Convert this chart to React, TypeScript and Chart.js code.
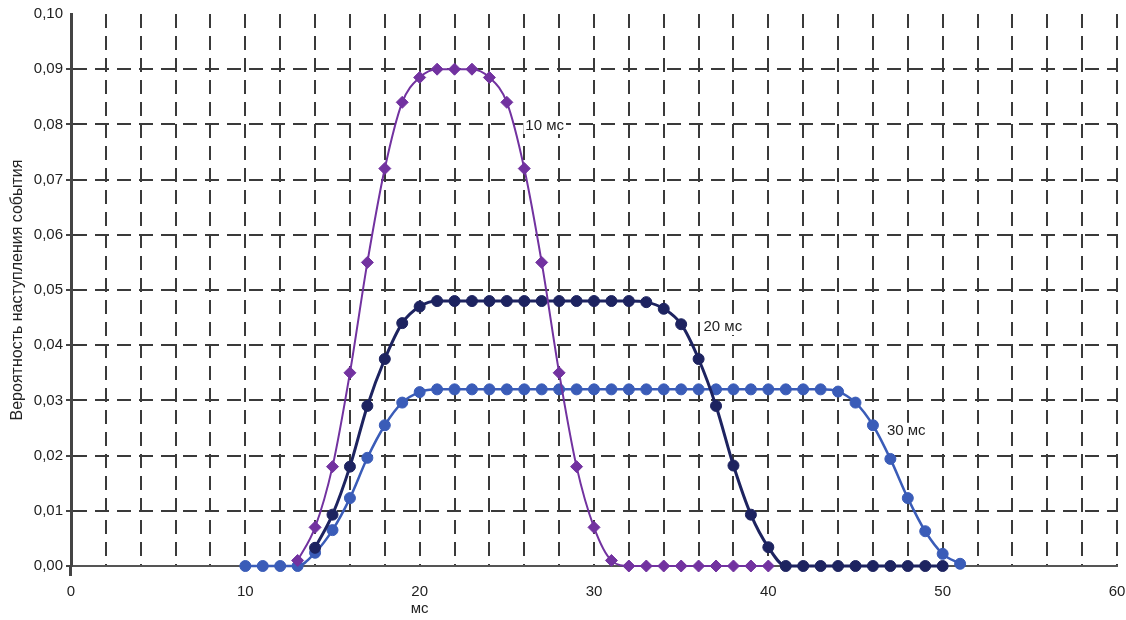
import { useEffect, useRef } from 'react';
import { Chart, registerables } from 'chart.js';

Chart.register(...registerables);

// ---- data ----
const X_10MS = [13, 14, 15, 16, 17, 18, 19, 20, 21, 22, 23, 24, 25, 26, 27, 28, 29, 30, 31, 32, 33, 34, 35, 36, 37, 38, 39, 40];
const Y_10MS = [0.001, 0.007, 0.018, 0.035, 0.055, 0.072, 0.084, 0.0885, 0.09, 0.09, 0.09, 0.0885, 0.084, 0.072, 0.055, 0.035, 0.018, 0.007, 0.001, 0, 0, 0, 0, 0, 0, 0, 0, 0];

const X_20MS = [14, 15, 16, 17, 18, 19, 20, 21, 22, 23, 24, 25, 26, 27, 28, 29, 30, 31, 32, 33, 34, 35, 36, 37, 38, 39, 40, 41, 42, 43, 44, 45, 46, 47, 48, 49, 50];
const Y_20MS = [0.0033, 0.0093, 0.018, 0.029, 0.0375, 0.044, 0.047, 0.048, 0.048, 0.048, 0.048, 0.048, 0.048, 0.048, 0.048, 0.048, 0.048, 0.048, 0.048, 0.0478, 0.0466, 0.0438, 0.0375, 0.029, 0.0182, 0.0093, 0.0034, 0, 0, 0, 0, 0, 0, 0, 0, 0, 0];

const X_30MS = [10, 11, 12, 13, 14, 15, 16, 17, 18, 19, 20, 21, 22, 23, 24, 25, 26, 27, 28, 29, 30, 31, 32, 33, 34, 35, 36, 37, 38, 39, 40, 41, 42, 43, 44, 45, 46, 47, 48, 49, 50, 51];
const Y_30MS = [0, 0, 0, 0, 0.0024, 0.0065, 0.0123, 0.0196, 0.0255, 0.0296, 0.0315, 0.032, 0.032, 0.032, 0.032, 0.032, 0.032, 0.032, 0.032, 0.032, 0.032, 0.032, 0.032, 0.032, 0.032, 0.032, 0.032, 0.032, 0.032, 0.032, 0.032, 0.032, 0.032, 0.032, 0.0316, 0.0296, 0.0255, 0.0194, 0.0123, 0.0063, 0.0022, 0.0004];

const SERIES_NAMES = ['10 мс', '20 мс', '30 мс'];
const SERIES_LABEL_X = [26.06, 36.28, 46.8];
const SERIES_LABEL_Y = [0.0797, 0.0433, 0.0245];

const X_TITLE = 'мс';
const X_TITLE_AT = 20;
const Y_TITLE = 'Вероятность наступления события';

const X_MIN = 0;
const X_MAX = 60;
const X_GRID_STEP = 2;
const X_LABEL_STEP = 10;
const Y_MIN = 0;
const Y_MAX = 0.1;
const Y_STEP = 0.01;

// ---- styles ----
const FONT = '"Liberation Sans", Arial, sans-serif';
const PURPLE = '#7232a0';
const NAVY = '#1d2360';
const BLUE = '#3a5cb8';
const GRID = '#3a3a3a';
const TEXT = '#222222';

const toPoints = (xs: number[], ys: number[]) => xs.map((x, i) => ({ x, y: ys[i] }));

const annotationPlugin = {
  id: 'annotations',
  beforeDatasetsDraw(chart: any) {
    const { ctx, chartArea } = chart;
    ctx.save();
    ctx.strokeStyle = '#444444';
    ctx.lineWidth = 3;
    ctx.beginPath();
    ctx.moveTo(chartArea.left - 0.5, chartArea.bottom);
    ctx.lineTo(chartArea.left - 0.5, chartArea.bottom + 10);
    ctx.stroke();
    ctx.restore();
  },
  afterDatasetsDraw(chart: any) {
    const { ctx, scales } = chart;
    const x = scales.x;
    const y = scales.y;
    ctx.save();
    ctx.font = `15px ${FONT}`;
    ctx.textBaseline = 'middle';
    ctx.textAlign = 'left';
    SERIES_NAMES.forEach((t, i) => {
      const px = x.getPixelForValue(SERIES_LABEL_X[i]);
      const py = y.getPixelForValue(SERIES_LABEL_Y[i]);
      const w = ctx.measureText(t).width;
      ctx.fillStyle = '#ffffff';
      ctx.fillRect(px - 2, py - 8, w + 4, 16);
      ctx.fillStyle = TEXT;
      ctx.fillText(t, px, py);
    });
    ctx.textAlign = 'center';
    ctx.fillStyle = TEXT;
    ctx.fillText(X_TITLE, x.getPixelForValue(X_TITLE_AT), x.bottom - 11);
    ctx.restore();
  },
};

export default function App() {
  const ref = useRef<HTMLCanvasElement>(null);

  useEffect(() => {
    document.body.style.margin = '0';
    document.body.style.overflow = 'hidden';
    const isVal = (v: number, t: number) => Math.abs(v - t) < 1e-9;

    const chart = new Chart(ref.current as HTMLCanvasElement, {
      type: 'line',
      data: {
        datasets: [
          {
            label: SERIES_NAMES[0],
            data: toPoints(X_10MS, Y_10MS),
            borderColor: PURPLE,
            backgroundColor: PURPLE,
            pointBorderColor: PURPLE,
            pointBackgroundColor: PURPLE,
            borderWidth: 2,
            pointStyle: 'rectRot',
            pointRadius: 6,
            pointBorderWidth: 1,
            cubicInterpolationMode: 'monotone',
            clip: false,
          } as any,
          {
            label: SERIES_NAMES[1],
            data: toPoints(X_20MS, Y_20MS),
            borderColor: NAVY,
            backgroundColor: NAVY,
            pointBorderColor: NAVY,
            pointBackgroundColor: NAVY,
            borderWidth: 3,
            pointStyle: 'circle',
            pointRadius: 5.5,
            pointBorderWidth: 1,
            cubicInterpolationMode: 'monotone',
            clip: false,
          } as any,
          {
            label: SERIES_NAMES[2],
            data: toPoints(X_30MS, Y_30MS),
            borderColor: BLUE,
            backgroundColor: BLUE,
            pointBorderColor: BLUE,
            pointBackgroundColor: BLUE,
            borderWidth: 2.5,
            pointStyle: 'circle',
            pointRadius: 5.5,
            pointBorderWidth: 1,
            cubicInterpolationMode: 'monotone',
            clip: false,
          } as any,
        ],
      },
      options: {
        animation: false,
        responsive: false,
        layout: { padding: { left: 0, top: 14, right: 0, bottom: 0 } },
        plugins: {
          legend: { display: false },
          tooltip: { enabled: false },
        },
        scales: {
          x: {
            type: 'linear',
            min: X_MIN,
            max: X_MAX,
            afterFit: (s: any) => {
              s.height = 54;
              s.paddingLeft = 0;
              s.paddingRight = 9;
            },
            ticks: {
              stepSize: X_GRID_STEP,
              autoSkip: false,
              maxRotation: 0,
              padding: 17,
              color: TEXT,
              font: { family: FONT, size: 15 },
              callback: (v: any) => (Number(v) % X_LABEL_STEP === 0 ? String(v) : ''),
            },
            grid: {
              color: (c: any) => (c.tick && isVal(c.tick.value, X_MIN) ? 'rgba(0,0,0,0)' : GRID),
              lineWidth: 2,
              drawTicks: false,
            },
            border: { display: true, color: '#555555', width: 2, dash: [14, 8] },
          } as any,
          y: {
            type: 'linear',
            min: Y_MIN,
            max: Y_MAX,
            afterFit: (s: any) => {
              s.width = 71;
              s.paddingTop = 0;
              s.paddingBottom = 0;
            },
            ticks: {
              stepSize: Y_STEP,
              padding: 3,
              color: TEXT,
              font: { family: FONT, size: 15 },
              callback: (v: any) => Number(v).toFixed(2).replace('.', ','),
            },
            grid: {
              color: (c: any) =>
                c.tick && (isVal(c.tick.value, Y_MAX) || isVal(c.tick.value, Y_MIN)) ? 'rgba(0,0,0,0)' : GRID,
              lineWidth: 2,
              drawTicks: true,
              tickLength: 5,
              tickWidth: 2,
              tickColor: (c: any) => (c.tick && isVal(c.tick.value, Y_MAX) ? 'rgba(0,0,0,0)' : '#444444'),
              tickBorderDash: [],
            },
            border: { display: true, color: '#444444', width: 3, dash: [14, 8] },
            title: {
              display: true,
              text: Y_TITLE,
              color: TEXT,
              font: { family: FONT, size: 16 },
              padding: { top: 8, bottom: 0 },
            },
          } as any,
        },
      },
      plugins: [annotationPlugin],
    });

    return () => chart.destroy();
  }, []);

  return <canvas ref={ref} width={1126} height={620} style={{ display: 'block' }} />;
}
